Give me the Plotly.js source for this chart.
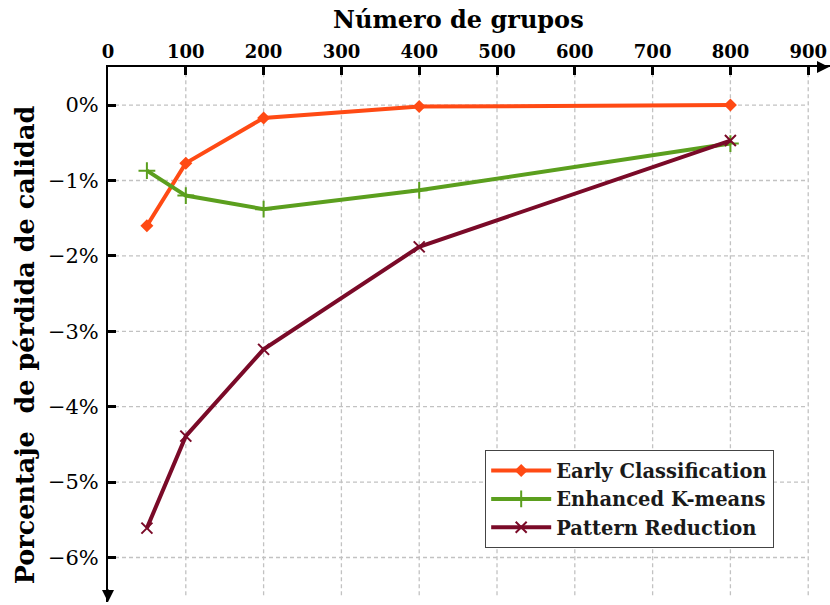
<!DOCTYPE html>
<html>
<head>
<meta charset="utf-8">
<script src="https://cdn.plot.ly/plotly-3.0.1.min.js"></script>
<style>
  html, body { margin: 0; padding: 0; background: #fff; }
  #chart { width: 830px; height: 605px; }
</style>
</head>
<body>
<div id="chart"></div>
<script>
// Number of clusters tested
const grupos = [50, 100, 200, 400, 800];

// Quality loss (%) per method
const earlyClassification = [-1.60, -0.77, -0.17, -0.02, 0.00];
const enhancedKMeans      = [-0.87, -1.20, -1.38, -1.13, -0.51];
const patternReduction    = [-5.61, -4.39, -3.24, -1.88, -0.47];

const seriesNames = ['Early Classification', 'Enhanced K-means', 'Pattern Reduction'];

const xTicks = [0, 100, 200, 300, 400, 500, 600, 700, 800, 900];
const yTicks = [0, -1, -2, -3, -4, -5, -6];
const yTickText = ['0%', '\u22121%', '\u22122%', '\u22123%', '\u22124%', '\u22125%', '\u22126%'];

const xTitle = 'Número de grupos';
const yTitle = 'Porcentaje  de pérdida de calidad';

const X_MAX = 928, Y_MIN = -6.59, Y_MAX = 0.505;
const FONT = '"DejaVu Serif", "Liberation Serif", serif';

const colors = ['#ff4a14', '#5b9f1e', '#7a0a28'];

const traces = [
  {
    x: grupos, y: earlyClassification, name: seriesNames[0],
    mode: 'lines+markers', type: 'scatter',
    line: { color: colors[0], width: 4 },
    marker: { symbol: 'diamond', size: 10, color: colors[0] }
  },
  {
    x: grupos, y: enhancedKMeans, name: seriesNames[1],
    mode: 'lines+markers', type: 'scatter',
    line: { color: colors[1], width: 4 },
    marker: { symbol: 'cross-thin', size: 12, color: colors[1], line: { color: colors[1], width: 2 } }
  },
  {
    x: grupos, y: patternReduction, name: seriesNames[2],
    mode: 'lines+markers', type: 'scatter',
    line: { color: colors[2], width: 4 },
    marker: { symbol: 'x-thin', size: 11, color: colors[2], line: { color: colors[2], width: 2 } }
  }
];

// dashed grid, drawn only over the labelled tick range
const gridStyle = { color: '#c2c2c2', width: 1.3, dash: '4px,3px' };
const shapes = [];
xTicks.slice(1).forEach(v => shapes.push({
  type: 'line', xref: 'x', yref: 'y', x0: v, x1: v, y0: -6.5, y1: Y_MAX,
  line: gridStyle, layer: 'below'
}));
yTicks.forEach(v => shapes.push({
  type: 'line', xref: 'x', yref: 'y', x0: 0, x1: 900, y0: v, y1: v,
  line: gridStyle, layer: 'below'
}));

const layout = {
  width: 830, height: 605,
  margin: { l: 108, r: 0, t: 67, b: 3 },
  paper_bgcolor: '#fff', plot_bgcolor: '#fff',
  font: { family: FONT, color: '#000', size: 18 },
  showlegend: true,
  legend: {
    x: 0.522, y: 0.284, xanchor: 'left', yanchor: 'top',
    bgcolor: '#fff', bordercolor: '#444', borderwidth: 1.3,
    font: { family: FONT, size: 19.5, color: '#1a1a1a', weight: 'bold' },
    tracegroupgap: 0, itemwidth: 60
  },
  xaxis: {
    side: 'top', range: [0, X_MAX], fixedrange: true,
    tickvals: xTicks, ticks: 'inside', ticklen: 8, tickwidth: 3, tickcolor: '#000',
    showline: true, linecolor: '#000', linewidth: 2,
    showgrid: false, zeroline: false,
    tickfont: { family: FONT, size: 18, color: '#000', weight: 'bold' }
  },
  yaxis: {
    range: [Y_MIN, Y_MAX], fixedrange: true,
    tickvals: yTicks, ticktext: yTickText, ticks: 'inside', ticklen: 8, tickwidth: 3, tickcolor: '#000',
    showline: true, linecolor: '#000', linewidth: 2,
    showgrid: false, zeroline: false, ticklabelstandoff: 3,
    tickfont: { family: FONT, size: 21, color: '#000' }
  },
  shapes: shapes,
  annotations: [
    // axis titles: the x title sits over the 0–900 tick span
    { xref: 'x', yref: 'paper', x: 450, y: 1, yshift: 48, xanchor: 'center', yanchor: 'middle',
      text: '<b>' + xTitle + '</b>', showarrow: false,
      font: { family: FONT, size: 24, color: '#000' } },
    { xref: 'paper', yref: 'paper', x: 0, y: 0.48, xshift: -83, xanchor: 'center', yanchor: 'middle',
      textangle: -90, text: '<b>' + yTitle + '</b>', showarrow: false,
      font: { family: FONT, size: 25.5, color: '#000' } },
    // arrowheads at the ends of both axes
    { xref: 'paper', yref: 'paper', x: 1, y: 1, ax: -14, ay: 0, text: '',
      showarrow: true, arrowhead: 2, arrowsize: 1.2, arrowwidth: 2, arrowcolor: '#000' },
    { xref: 'paper', yref: 'paper', x: 0, y: 0, ax: 0, ay: -14, text: '',
      showarrow: true, arrowhead: 2, arrowsize: 1.2, arrowwidth: 2, arrowcolor: '#000' }
  ]
};

Plotly.newPlot('chart', traces, layout, { displayModeBar: false, staticPlot: true });
</script>
</body>
</html>
